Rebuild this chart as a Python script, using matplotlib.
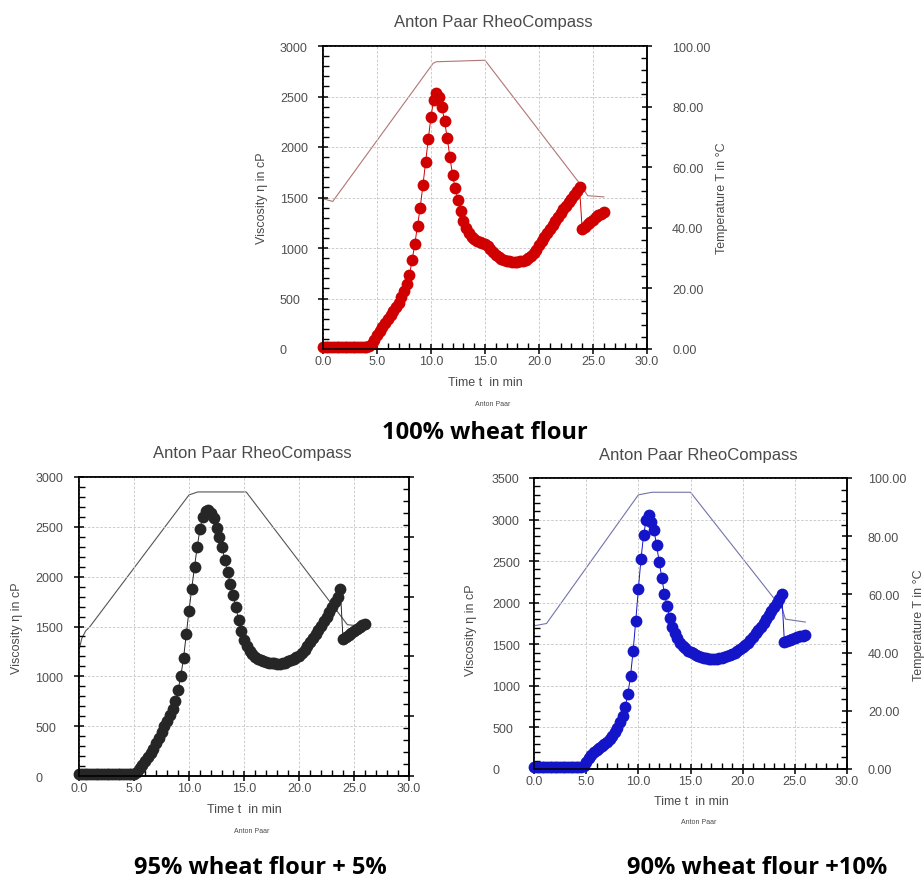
import numpy as np
import matplotlib
matplotlib.use("Agg")
import matplotlib.pyplot as plt
from matplotlib.ticker import MultipleLocator, FormatStrFormatter

plt.rcParams['font.family'] = ['Liberation Sans', 'DejaVu Sans']

W, H = 924, 879

# measurement every 15 s (0 .. 26 min)
time_min = np.arange(0, 26.01, 0.25)

# viscosity in cP, one row = 2 min
visc_100 = [
    15, 15, 15, 15, 15, 15, 15, 15,
    15, 15, 15, 15, 15, 15, 15, 15,
    18, 25, 45, 85, 135, 180, 220, 260,
    300, 340, 380, 420, 460, 510, 570, 640,
    730, 880, 1040, 1220, 1400, 1620, 1850, 2080,
    2300, 2470, 2535, 2500, 2400, 2260, 2090, 1900,
    1720, 1590, 1475, 1365, 1270, 1200, 1150, 1110,
    1085, 1068, 1056, 1046, 1036, 1020, 995, 962,
    932, 908, 892, 881, 873, 868, 865, 865,
    866, 869, 875, 884, 898, 920, 950, 985,
    1025, 1065, 1105, 1145, 1185, 1225, 1265, 1305,
    1345, 1385, 1420, 1455, 1490, 1525, 1560, 1600,
    1185, 1210, 1235, 1258, 1280, 1302, 1322, 1340,
    1355,
]
visc_95 = [
    20, 20, 20, 20, 20, 20, 20, 20,
    20, 20, 20, 20, 20, 20, 20, 20,
    20, 20, 20, 20, 22, 40, 80, 115,
    155, 195, 235, 275, 330, 385, 440, 500,
    555, 610, 670, 750, 860, 1000, 1180, 1420,
    1660, 1880, 2100, 2300, 2480, 2600, 2655, 2670,
    2640, 2590, 2490, 2400, 2300, 2170, 2050, 1930,
    1820, 1700, 1570, 1450, 1360, 1300, 1255, 1220,
    1195, 1178, 1163, 1150, 1140, 1135, 1132, 1130,
    1128, 1127, 1130, 1138, 1150, 1163, 1177, 1192,
    1205, 1235, 1265, 1300, 1340, 1380, 1420, 1465,
    1510, 1555, 1600, 1650, 1700, 1750, 1800, 1880,
    1375, 1395, 1415, 1435, 1455, 1475, 1495, 1512,
    1528,
]
visc_90 = [
    20, 20, 20, 20, 20, 20, 20, 20,
    20, 20, 20, 20, 20, 20, 20, 20,
    20, 20, 22, 40, 90, 130, 170, 200,
    225, 250, 275, 300, 330, 365, 400, 445,
    495, 560, 640, 750, 900, 1120, 1420, 1780,
    2160, 2520, 2810, 3000, 3050, 2970, 2870, 2690,
    2490, 2300, 2110, 1960, 1820, 1710, 1630, 1570,
    1520, 1480, 1450, 1425, 1405, 1390, 1375, 1360,
    1350, 1340, 1333, 1328, 1325, 1323, 1325, 1330,
    1337, 1345, 1355, 1367, 1385, 1400, 1420, 1442,
    1462, 1490, 1520, 1555, 1590, 1630, 1670, 1712,
    1755, 1800, 1848, 1895, 1945, 1995, 2048, 2100,
    1525, 1540, 1555, 1565, 1575, 1585, 1595, 1605,
    1612,
]

# temperature profiles (breakpoints), deg C
temp_t_100 = [0, 0.9, 10.2, 10.5, 15.0, 23.9, 24.5, 26.0]
temp_100 = [49.6, 48.7, 94.3, 94.8, 95.3, 54.0, 50.6, 50.2]
temp_t_95 = [0, 0.25, 0.6, 1.0, 10.0, 10.8, 15.2, 24.4, 26.0]
temp_95 = [42.0, 46.0, 48.5, 50.0, 94.0, 95.0, 95.0, 50.6, 50.0]
temp_t_90 = [0, 1.2, 10.0, 11.3, 15.0, 23.8, 24.1, 26.0]
temp_90 = [49.2, 50.0, 94.2, 95.1, 95.1, 55.0, 51.5, 50.5]

x_ticks_fmt = '%.1f'
captions = ['100% wheat flour', '95% wheat flour + 5%', '90% wheat flour +10%']

fig = plt.figure(figsize=(W / 100, H / 100), dpi=100)

def box(l, t, r, b):
    return [l / W, 1 - b / H, (r - l) / W, (b - t) / H]

def txt(x, y, s, **kw):
    fig.text(x / W, 1 - y / H, s, ha='center', va='center', **kw)

def panel(rect, visc, tt, temp, mk, tl, ymax, lpad, rpad, right_labels):
    ax = fig.add_axes(rect)
    tw = ax.twinx()
    ax.set_zorder(tw.get_zorder() + 1)
    ax.patch.set_visible(False)

    tw.plot(tt, temp, color=tl, lw=0.8)
    ax.plot(time_min, visc, '-o', color=mk, lw=0.7, ms=8.5, mew=0, clip_on=False)

    ax.set_xlim(0, 30)
    ax.set_ylim(0, ymax)
    tw.set_ylim(0, 100)
    ax.xaxis.set_major_locator(MultipleLocator(5))
    ax.xaxis.set_minor_locator(MultipleLocator(1))
    ax.xaxis.set_major_formatter(FormatStrFormatter(x_ticks_fmt))
    ax.yaxis.set_major_locator(MultipleLocator(500))
    ax.yaxis.set_minor_locator(MultipleLocator(100))
    tw.yaxis.set_major_locator(MultipleLocator(20))
    tw.yaxis.set_minor_locator(MultipleLocator(4))
    tw.yaxis.set_major_formatter(FormatStrFormatter('%.2f'))

    ax.grid(which='major', color='#c4c4c4', ls=(0, (3, 2)), lw=0.6)
    for a in (ax, tw):
        a.tick_params(which='major', direction='inout', length=7, width=1.1,
                      labelsize=9, labelcolor='#4f4f4f')
        a.tick_params(which='minor', direction='in', length=4, width=1.0)
        for s in a.spines.values():
            s.set_linewidth(1.1)
    ax.tick_params(axis='x', which='major', pad=0.5)
    ax.tick_params(axis='y', which='major', pad=lpad)
    plt.setp(ax.get_yticklabels(), ha='left')
    tw.tick_params(axis='y', which='major', pad=rpad, labelright=right_labels)
    return ax, tw

gray = '#4a4a4a'

# top: 100 % wheat flour
panel(box(323, 47, 647, 350), visc_100, temp_t_100, temp_100,
      '#d00000', '#b07575', 3000, 27.5, 14.5, True)
txt(493, 22, 'Anton Paar RheoCompass', fontsize=12, color=gray)
txt(485, 383, 'Time t  in min', fontsize=9, color=gray)
txt(493, 405, 'Anton Paar', fontsize=5, color=gray)
txt(262, 198, 'Viscosity η in cP', fontsize=9, color=gray, rotation=90)
txt(722, 198, 'Temperature T in °C', fontsize=9, color=gray, rotation=90)
txt(485, 433, captions[0], fontsize=17, fontweight='bold', family='Open Sans')

# bottom left: 95 %
panel(box(79, 478, 409, 777), visc_95, temp_t_95, temp_95,
      '#262626', '#555555', 3000, 28, 14.5, False)
txt(252, 454, 'Anton Paar RheoCompass', fontsize=12, color=gray)
txt(244, 810, 'Time t  in min', fontsize=9, color=gray)
txt(252, 832, 'Anton Paar', fontsize=5, color=gray)
txt(17, 628, 'Viscosity η in cP', fontsize=9, color=gray, rotation=90)
txt(260, 868, captions[1], fontsize=17, fontweight='bold', family='Open Sans')

# bottom right: 90 %
panel(box(534, 479, 847, 770), visc_90, temp_t_90, temp_90,
      '#1414c8', '#7373a8', 3500, 26.7, 11.6, True)
txt(698, 456, 'Anton Paar RheoCompass', fontsize=12, color=gray)
txt(691, 802, 'Time t  in min', fontsize=9, color=gray)
txt(699, 823, 'Anton Paar', fontsize=5, color=gray)
txt(471, 630, 'Viscosity η in cP', fontsize=9, color=gray, rotation=90)
txt(919, 625, 'Temperature T in °C', fontsize=9, color=gray, rotation=90)
txt(757, 868, captions[2], fontsize=17, fontweight='bold', family='Open Sans')

fig.savefig('out.png', dpi=100)
